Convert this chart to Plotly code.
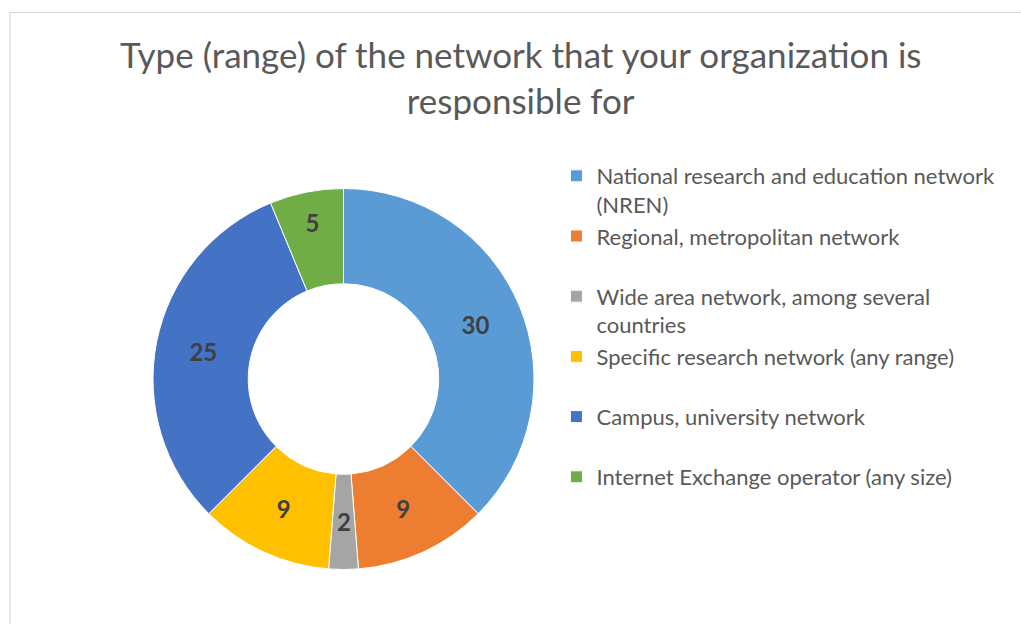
import math
import plotly.graph_objects as go

# --- data ---
labels = [
    "National research and education network<br>(NREN)",
    "Regional, metropolitan network<br>&nbsp;",
    "Wide area network, among several<br>countries",
    "Specific research network (any range)<br>&nbsp;",
    "Campus, university network<br>&nbsp;",
    "Internet Exchange operator (any size)<br>&nbsp;",
]
values = [30, 9, 2, 9, 25, 5]
colors = ["#5B9BD5", "#ED7D31", "#A5A5A5", "#FFC000", "#4472C4", "#70AD47"]

title_text = "Type (range) of the network that your organization is<br>responsible for"
font_fam = "Lato, Open Sans, sans-serif"
W, H = 1021, 624
hole = 0.5
dom_x = [153/W, 534/W]
dom_y = [1-570/H, 1-188/H]

# the thin "2" slice: plotly pushes its label outward, so put it mid-ring like Excel does
small = [i for i, v in enumerate(values) if v / sum(values) < 0.05]
textpos = ["none" if i in small else "inside" for i in range(len(values))]

fig = go.Figure(go.Pie(
    labels=labels,
    values=values,
    hole=hole,
    sort=False,
    direction="clockwise",
    rotation=0,
    marker=dict(colors=colors, line=dict(color="white", width=1)),
    textinfo="value",
    textposition=textpos,
    insidetextorientation="horizontal",
    textfont=dict(family=font_fam, size=24, color="#404040", weight="bold"),
    domain=dict(x=dom_x, y=dom_y),
))

R = (dom_x[1]-dom_x[0]) * W / 2
cx = sum(dom_x) / 2
cy = sum(dom_y) / 2
total = sum(values)
for i in small:
    theta = 2*math.pi * (sum(values[:i]) + values[i]/2) / total
    r = R * (1 + hole) / 2
    fig.add_annotation(x=cx + r*math.sin(theta)/W, y=cy + r*math.cos(theta)/H,
                       xref="paper", yref="paper", xanchor="center", yanchor="middle",
                       text=str(values[i]), showarrow=False,
                       font=dict(family=font_fam, size=24, color="#404040", weight="bold"))

fig.update_layout(
    width=W, height=H,
    margin=dict(l=0, r=0, t=0, b=0),
    paper_bgcolor="white",
    font=dict(family=font_fam, color="#595959"),
    title=dict(text=title_text, x=0.51, xanchor="center", y=1-68/H, yanchor="top",
               font=dict(size=35, color="#595959", family=font_fam)),
    legend=dict(x=0.545, xanchor="left", y=1-155/H, yanchor="top",
                font=dict(size=22, color="#595959", family=font_fam),
                valign="top", traceorder="normal"),
    shapes=[dict(type="rect", xref="paper", yref="paper",
                 x0=10/W, x1=1.01, y0=-0.01, y1=1-12.5/H,
                 line=dict(color="#D9D9D9", width=1.2))],
)

# drop the default 8px body margin so the figure sits at the page origin
fig.write_html("out.html", config={"displayModeBar": False},
               post_script="document.body.style.margin='0';")
